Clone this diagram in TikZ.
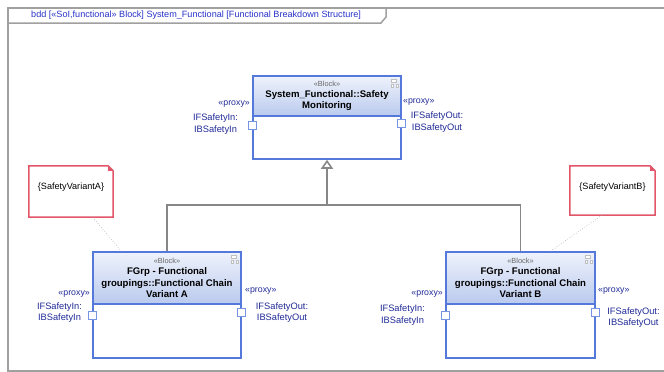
\documentclass[tikz,border=0pt]{standalone}
\usepackage{fontspec}
\setmainfont{Liberation Sans}
\usetikzlibrary{arrows.meta,calc}

\definecolor{blockblue}{RGB}{84,121,219}
\definecolor{headtop}{RGB}{238,242,251}
\definecolor{headbot}{RGB}{186,202,238}
\definecolor{portblue}{RGB}{32,42,150}
\definecolor{titleblue}{RGB}{40,50,200}
\definecolor{notered}{RGB}{226,86,106}
\definecolor{framegray}{RGB}{160,160,160}
\definecolor{genGray}{RGB}{135,135,135}

\newcommand{\stereo}[1]{{\fontsize{7.4}{8}\selectfont\mdseries\color{black!60}#1}}

\begin{document}
\begin{tikzpicture}[x=1pt,y=-1pt,
  framestyle/.style={draw=framegray,line width=1.5pt},
  titletext/.style={font=\fontsize{9.1}{10}\selectfont,text=titleblue,inner sep=0pt},
  blockbox/.style={draw=blockblue,line width=1.5pt,fill=white,inner sep=0pt},
  blockhead/.style={draw=blockblue,line width=1.5pt,top color=headtop,bottom color=headbot,
    inner sep=0pt,align=center,font=\fontsize{9.6}{11.5}\selectfont\bfseries},
  porticon/.style={draw=blockblue!80,fill=white,line width=0.9pt,minimum size=8pt,inner sep=0pt},
  portlabel/.style={text=portblue,font=\fontsize{9.3}{11.5}\selectfont,align=center,inner sep=0pt},
  proxylabel/.style={text=portblue,font=\fontsize{8.8}{10}\selectfont,inner sep=0pt},
  genline/.style={draw=genGray,line width=1.6pt},
  gentip/.style={-{Triangle[open,length=9pt,width=12pt]}},
  dotline/.style={draw=black!35,dotted,line width=0.6pt},
  notebox/.style={draw=none,minimum width=#1,inner sep=0pt},
  noteline/.style={draw=notered,line width=1.5pt,fill=white},
  notetext/.style={font=\fontsize{9.1}{10}\selectfont,inner sep=0pt},
  iconline/.style={draw=black!25,line width=0.5pt,fill=white}
]
\useasboundingbox (0,0) rectangle (664,372);

% diagram frame with its name tab
\draw[framestyle] (664,8) -- (8,8) -- (8,371) -- (664,371);
\draw[framestyle] (8,23) -- (381,23) -- (386,17) -- (386,8);
\node[titletext,anchor=west] (title) at (31,15.5)
  {bdd [«SoI,functional» Block] System\_Functional [Functional Breakdown Structure]};

% ---- parent block ----
\node[blockbox,minimum width=148pt,minimum height=83pt] (sys) at (327,117.5) {};
\node[blockhead,minimum width=148pt,minimum height=40pt,anchor=north] (sysH) at (sys.north)
  {\stereo{«Block»}\\[-0.5pt]System\_Functional::Safety\\Monitoring};

% ---- variant blocks ----
\node[blockbox,minimum width=148pt,minimum height=106pt] (A) at (167,305) {};
\node[blockhead,minimum width=148pt,minimum height=52pt,anchor=north] (AH) at (A.north)
  {\stereo{«Block»}\\[-0.5pt]FGrp - Functional\\groupings::Functional Chain\\Variant A};

\node[blockbox,minimum width=149pt,minimum height=106pt] (B) at (520.5,305) {};
\node[blockhead,minimum width=149pt,minimum height=52pt,anchor=north] (BH) at (B.north)
  {\stereo{«Block»}\\[-0.5pt]FGrp - Functional\\groupings::Functional Chain\\Variant B};

% small block icons in the header corners
\foreach \h in {sysH,AH,BH}{
  \draw[iconline] ($(\h.north east)+(-11,4)$) rectangle ++(5,3);
  \draw[iconline] ($(\h.north east)+(-11,9)$) rectangle ++(2.5,2.5);
  \draw[iconline] ($(\h.north east)+(-6,9)$) rectangle ++(2.5,2.5);
}

% ---- proxy ports ----
\node[porticon] (sysIn)  at ($(sys.north west)+(0,50)$) {};
\node[porticon] (sysOut) at ($(sys.north east)+(0,48.5)$) {};
\node[porticon] (AIn)  at ($(A.north west)+(0,64)$) {};
\node[porticon] (AOut) at ($(A.north east)+(0,61.5)$) {};
\node[porticon] (BIn)  at ($(B.north west)+(0,64)$) {};
\node[porticon] (BOut) at ($(B.north east)+(0,61.5)$) {};

% port labels
\node[proxylabel,anchor=east] (sysInP) at (250,104.5) {«proxy»};
\node[portlabel] (sysInL) at (215.5,124) {IFSafetyIn:\\IBSafetyIn};
\node[proxylabel,anchor=west] (sysOutP) at (403,102.5) {«proxy»};
\node[portlabel] (sysOutL) at (437,122) {IFSafetyOut:\\IBSafetyOut};

\node[proxylabel,anchor=east] (AInP) at (90,294.5) {«proxy»};
\node[portlabel] (AInL) at (59.5,312.5) {IFSafetyIn:\\IBSafetyIn};
\node[proxylabel,anchor=west] (AOutP) at (245,291.5) {«proxy»};
\node[portlabel] (AOutL) at (282,312.5) {IFSafetyOut:\\IBSafetyOut};

\node[proxylabel,anchor=east] (BInP) at (443,294.5) {«proxy»};
\node[portlabel] (BInL) at (402.5,315) {IFSafetyIn:\\IBSafetyIn};
\node[proxylabel,anchor=west] (BOutP) at (598,291.5) {«proxy»};
\node[portlabel] (BOutL) at (633.5,317.5) {IFSafetyOut:\\IBSafetyOut};

% ---- generalization tree ----
\coordinate (fork) at (327,205);
\draw[genline] (B.north) |- (fork);
\draw[genline,gentip] (A.north) |- (fork) -- (sys.south);

% ---- constraint notes ----
\node[notebox=84pt,minimum height=51pt] (noteA) at (71,191.5) {};
\node[notebox=85pt,minimum height=49pt] (noteB) at (612.5,190.5) {};
\foreach \n in {noteA,noteB}{
  \draw[noteline] (\n.north west) -- ($(\n.north east)+(-5,0)$) -- ($(\n.north east)+(0,5)$)
    -- (\n.south east) -- (\n.south west) -- cycle;
  \fill[notered] ($(\n.north east)+(-5,0)$) -- ($(\n.north east)+(0,5)$) -- ($(\n.north east)+(-5,5)$) -- cycle;
}
\node[notetext] (noteAtxt) at ($(noteA.center)+(0,-4.5)$) {\{SafetyVariantA\}};
\node[notetext] (noteBtxt) at ($(noteB.center)+(0,-3.5)$) {\{SafetyVariantB\}};

% note anchors
\draw[dotline] (noteA) -- (A);
\draw[dotline] (noteB.247) -- (B.61);
\end{tikzpicture}
\end{document}
